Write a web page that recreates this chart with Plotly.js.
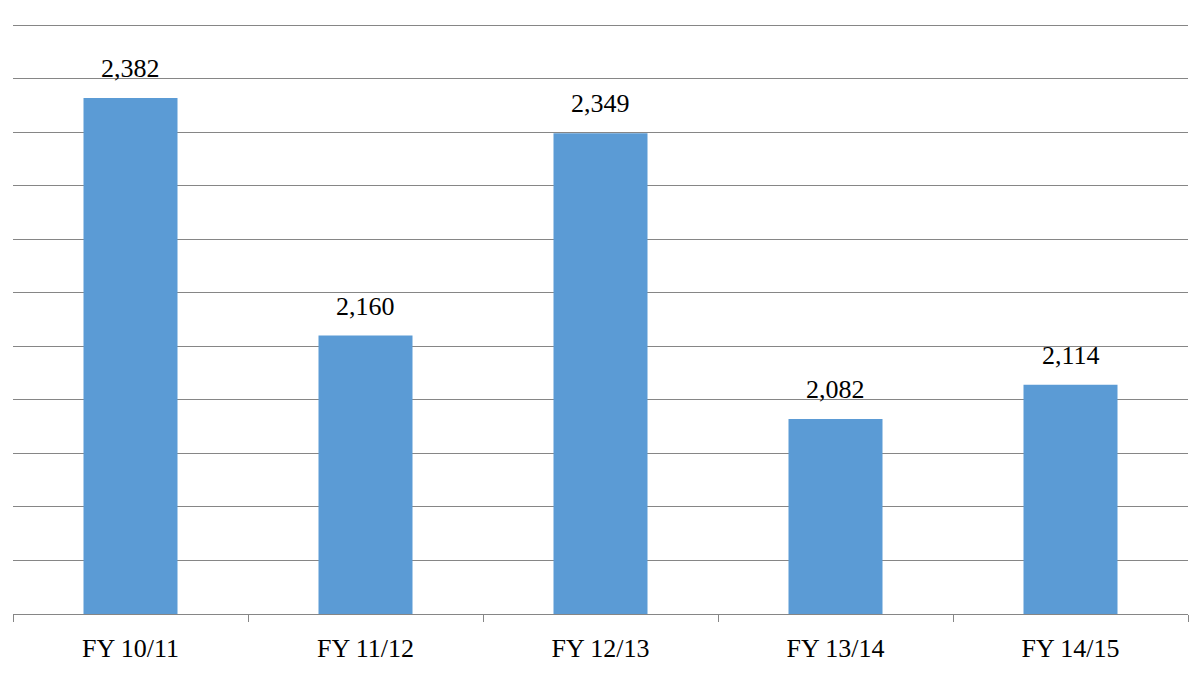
<!DOCTYPE html>
<html>
<head>
<meta charset="utf-8">
<script src="https://cdn.plot.ly/plotly-3.0.1.min.js"></script>
<style>
  html, body { margin: 0; padding: 0; background: #fff; }
  #chart { width: 1199px; height: 695px; }
</style>
</head>
<body>
<div id="chart"></div>
<script>
const years = ["FY 10/11", "FY 11/12", "FY 12/13", "FY 13/14", "FY 14/15"];
const counts = [2382, 2160, 2349, 2082, 2114];

const font = "Liberation Serif, Times New Roman, serif";

Plotly.newPlot("chart", [{
  x: years,
  y: counts,
  type: "bar",
  marker: { color: "#5b9bd5" },
  hoverinfo: "x+y",
}], {
  width: 1199,
  height: 695,
  margin: { l: 13, r: 11, t: 24, b: 81 },
  paper_bgcolor: "#fff",
  plot_bgcolor: "#fff",
  bargap: 0.6,
  showlegend: false,
  font: { family: font, size: 26, color: "#000" },
  annotations: years.map((c, i) => ({
    x: c,
    y: counts[i],
    text: counts[i].toLocaleString("en-US"),
    showarrow: false,
    yanchor: "bottom",
    yshift: 13,
    font: { family: font, size: 26, color: "#000" },
  })),
  xaxis: {
    type: "category",
    tickson: "boundaries",
    ticks: "outside",
    ticklen: 7,
    tickcolor: "#868686",
    showline: true,
    linecolor: "#868686",
    linewidth: 1,
    showgrid: false,
    ticklabelstandoff: 11,
    tickfont: { family: font, size: 26, color: "#000" },
  },
  yaxis: {
    range: [1900, 2451],
    tickvals: [1950, 2000, 2050, 2100, 2150, 2200, 2250, 2300, 2350, 2400, 2450],
    showticklabels: false,
    showgrid: true,
    gridcolor: "#868686",
    gridwidth: 1,
    zeroline: false,
    showline: false,
    ticks: "",
  },
}, { displayModeBar: false });
</script>
</body>
</html>
